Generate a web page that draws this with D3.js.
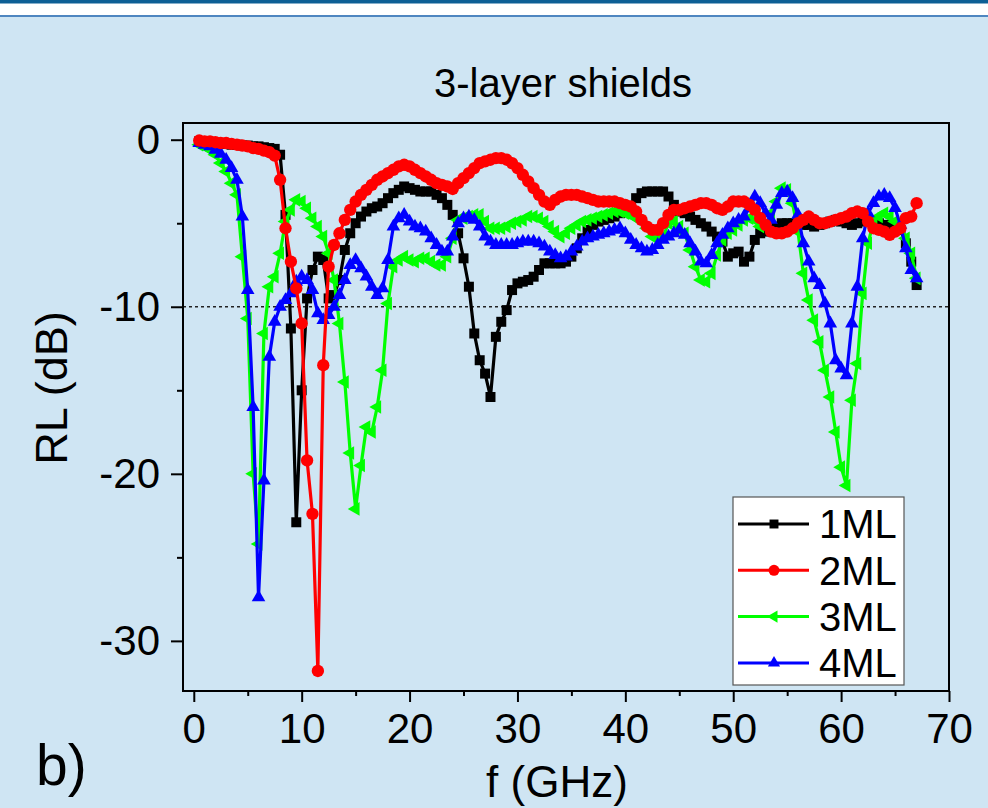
<!DOCTYPE html>
<html>
<head>
<meta charset="utf-8">
<script src="https://cdn.jsdelivr.net/npm/d3@7"></script>
<style>
  body { margin: 0; background: #cfe5f3; }
  svg { display: block; font-family: "Liberation Sans", Arial, sans-serif; }
</style>
</head>
<body>
<div id="chart"></div>
<script>
// frequency grid (GHz), shared by all four series
var freq = [
  0.5, 1, 1.5, 2, 2.5, 3, 3.5, 4, 4.5, 5,
  5.5, 6, 6.5, 7, 7.5, 8, 8.5, 9, 9.5, 10,
  10.5, 11, 11.5, 12, 12.5, 13, 13.5, 14, 14.5, 15,
  15.5, 16, 16.5, 17, 17.5, 18, 18.5, 19, 19.5, 20,
  20.5, 21, 21.5, 22, 22.5, 23, 23.5, 24, 24.5, 25,
  25.5, 26, 26.5, 27, 27.5, 28, 28.5, 29, 29.5, 30,
  30.5, 31, 31.5, 32, 32.5, 33, 33.5, 34, 34.5, 35,
  35.5, 36, 36.5, 37, 37.5, 38, 38.5, 39, 39.5, 40,
  40.5, 41, 41.5, 42, 42.5, 43, 43.5, 44, 44.5, 45,
  45.5, 46, 46.5, 47, 47.5, 48, 48.5, 49, 49.5, 50,
  50.5, 51, 51.5, 52, 52.5, 53, 53.5, 54, 54.5, 55,
  55.5, 56, 56.5, 57, 57.5, 58, 58.5, 59, 59.5, 60,
  60.5, 61, 61.5, 62, 62.5, 63, 63.5, 64, 64.5, 65,
  65.5, 66, 66.5, 67
];

// reflection loss (dB)
var rl1ML = [
  -0.1, -0.15, -0.2, -0.2, -0.25, -0.25, -0.3, -0.3, -0.35, -0.35,
  -0.4, -0.4, -0.45, -0.5, -0.55, -0.9, -4.5, -11.3, -22.9, -15.0,
  -9.5, -7.8, -7.0, -7.2, -9.5, -9.3, -8.4, -6.6, -5.6, -5.0,
  -4.6, -4.3, -4.1, -4.0, -3.8, -3.5, -3.2, -3.0, -2.8, -2.9,
  -3.0, -3.1, -3.1, -3.1, -3.3, -3.5, -3.9, -4.5, -5.6, -7.1,
  -8.8, -11.6, -13.2, -14.0, -15.4, -11.8, -10.9, -10.2, -9.0, -8.6,
  -8.5, -8.4, -8.2, -7.8, -7.4, -7.4, -7.4, -7.4, -7.3, -7.0,
  -6.5, -5.9, -5.4, -5.1, -4.9, -4.8, -4.7, -4.6, -4.4, -4.3,
  -4.0, -3.5, -3.2, -3.1, -3.1, -3.1, -3.1, -3.4, -3.9, -4.3,
  -4.4, -4.6, -4.8, -5.0, -5.2, -5.5, -5.8, -6.1, -7.0, -6.8,
  -6.7, -7.3, -7.0, -6.0, -5.6, -5.5, -5.4, -5.2, -5.0, -5.0,
  -5.0, -5.0, -5.1, -5.1, -5.2, -5.1, -5.0, -4.9, -4.8, -4.9,
  -5.0, -5.1, -5.0, -4.9, -4.8, -4.9, -5.0, -5.1, -5.1, -5.2,
  -5.4, -6.2, -7.3, -8.7
];
var rl2ML = [
  -0.05, -0.1, -0.1, -0.15, -0.2, -0.2, -0.25, -0.3, -0.35, -0.4,
  -0.5, -0.55, -0.65, -0.75, -0.95, -2.4, -5.3, -7.3, -8.9, -11.0,
  -19.2, -22.4, -31.8, -13.5, -7.6, -6.3, -5.6, -4.8, -4.2, -3.7,
  -3.3, -3.0, -2.7, -2.4, -2.2, -2.0, -1.8, -1.6, -1.5, -1.6,
  -1.8, -2.0, -2.2, -2.4, -2.6, -2.7, -2.8, -2.95, -2.6, -2.3,
  -2.0, -1.7, -1.4, -1.3, -1.2, -1.1, -1.1, -1.2, -1.4, -1.7,
  -2.1, -2.5, -2.9, -3.3, -3.7, -3.9, -3.6, -3.4, -3.3, -3.3,
  -3.3, -3.4, -3.5, -3.6, -3.7, -3.7, -3.7, -3.7, -3.8, -3.9,
  -4.0, -4.3, -4.8, -5.2, -5.4, -5.4, -5.0, -4.5, -4.2, -4.2,
  -4.1, -4.0, -3.9, -3.8, -3.8, -3.9, -4.1, -4.2, -4.0, -3.7,
  -3.7, -3.7, -3.9, -4.2, -4.7, -5.1, -5.5, -5.6, -5.6, -5.5,
  -5.3, -5.0, -4.8, -4.6, -4.8, -5.0, -5.0, -4.9, -4.8, -4.7,
  -4.6, -4.4, -4.3, -4.4, -4.9, -5.3, -5.4, -5.5, -5.7, -5.5,
  -5.3, -4.7, -4.6, -3.8
];
var rl3ML = [
  -0.3, -0.4, -0.6, -0.9, -1.4, -1.9, -2.6, -3.3, -7.0, -10.7,
  -20.0, -24.2, -11.6, -8.8, -8.2, -6.8, -4.9, -4.2, -3.6, -3.7,
  -4.1, -4.7, -5.2, -5.8, -6.8, -8.4, -11.0, -14.5, -18.75, -22.1,
  -19.5, -17.2, -17.5, -16.0, -13.8, -9.8, -7.6, -7.2, -7.0, -7.2,
  -7.3, -7.1, -7.1, -7.3, -7.5, -7.5, -7.0, -5.9, -4.8, -4.7,
  -4.6, -4.5, -4.5, -4.9, -5.3, -5.3, -5.3, -5.2, -5.0, -4.9,
  -4.8, -4.6, -4.6, -4.7, -4.9, -5.2, -5.5, -5.8, -5.6, -5.3,
  -5.1, -4.9, -4.8, -4.7, -4.6, -4.5, -4.4, -4.3, -4.3, -4.4,
  -4.5, -4.7, -4.9, -5.3, -5.8, -5.8, -5.8, -5.0, -4.9, -5.2,
  -5.6, -6.6, -7.6, -8.4, -8.5, -8.0, -6.9, -6.0, -5.6, -5.4,
  -5.1, -4.8, -4.7, -4.8, -5.2, -5.2, -4.4, -3.7, -2.9, -3.0,
  -3.8, -5.5, -8.0, -9.6, -10.8, -12.1, -13.8, -15.4, -17.5, -19.6,
  -20.7, -15.6, -13.4, -9.2, -6.2, -4.9, -4.6, -4.4, -4.6, -4.9,
  -5.2, -5.9, -6.8, -8.3
];
var rl4ML = [
  -0.2, -0.3, -0.4, -0.6, -0.85, -1.2, -1.7, -2.4, -4.6, -9.0,
  -16.0, -27.4, -20.4, -13.0, -10.9, -10.0, -9.6, -9.2, -8.5, -8.2,
  -8.4, -9.0, -10.4, -10.8, -10.5, -10.0, -9.3, -8.4, -7.5, -7.2,
  -7.7, -8.2, -8.8, -9.3, -8.9, -7.2, -5.2, -4.7, -4.5, -4.9,
  -5.2, -5.3, -5.5, -5.9, -6.3, -6.7, -6.7, -5.8, -5.0, -4.7,
  -4.6, -4.8, -5.2, -5.8, -6.1, -6.3, -6.3, -6.3, -6.3, -6.2,
  -6.1, -6.1, -6.1, -6.2, -6.4, -6.7, -6.9, -7.1, -7.0, -6.7,
  -6.4, -6.1, -5.9, -5.8, -5.7, -5.6, -5.5, -5.4, -5.3, -5.6,
  -6.0, -6.3, -6.5, -6.7, -6.6, -6.3, -6.0, -5.8, -5.6, -5.4,
  -5.7, -6.2, -6.7, -7.3, -7.4, -6.9, -6.2, -5.7, -5.3, -5.0,
  -4.8, -4.6, -4.1, -3.4, -3.8, -4.4, -4.8, -3.9, -3.2, -3.1,
  -3.5, -4.5, -6.2, -7.3, -8.3, -8.7, -9.8, -11.0, -13.2, -13.7,
  -14.1, -11.0, -8.8, -5.9, -4.4, -3.8, -3.4, -3.3, -3.5, -4.1,
  -5.1, -6.5, -7.8, -8.3
];

var seriesNames = ["1ML", "2ML", "3ML", "4ML"];
var xTicks = [0, 10, 20, 30, 40, 50, 60, 70];
var xMinorTicks = [5, 15, 25, 35, 45, 55, 65];
var yTicks = [0, -10, -20, -30];
var yMinorTicks = [-5, -15, -25];
var refLevel = -10;

var width = 988, height = 808;
var frame = {left: 183, right: 949, top: 123, bottom: 691};

var series = [
  {name: seriesNames[0], values: rl1ML, color: "#000000", symbol: d3.symbolSquare, size: 100, rotate: 0},
  {name: seriesNames[1], values: rl2ML, color: "#ff0000", symbol: d3.symbolCircle, size: 120, rotate: 0},
  {name: seriesNames[2], values: rl3ML, color: "#00ff00", symbol: d3.symbolTriangle, size: 80, rotate: -90},
  {name: seriesNames[3], values: rl4ML, color: "#0000ff", symbol: d3.symbolTriangle, size: 80, rotate: 0}
];
var drawOrder = [0, 2, 3, 1];

var svg = d3.select("#chart").append("svg")
    .attr("width", width)
    .attr("height", height);

// page background + header bands
svg.append("rect").attr("width", width).attr("height", height).attr("fill", "#cfe5f3");
svg.append("rect").attr("width", width).attr("height", 15).attr("fill", "#ffffff");
svg.append("rect").attr("width", width).attr("height", 3.5).attr("fill", "#0d5f95");
svg.append("rect").attr("y", 15).attr("width", width).attr("height", 2).attr("fill", "#4f86c0");

var x = d3.scaleLinear().domain([-1, 70]).range([frame.left, frame.right]);
var y = d3.scaleLinear().domain([1, -33]).range([frame.top, frame.bottom]);

// plain hyphen for negatives, like the original
var fmt = function (d) { return String(d); };

// axes (major with labels, minor without)
svg.append("g")
    .attr("transform", "translate(0," + frame.bottom + ")")
    .call(d3.axisBottom(x).tickValues(xTicks).tickSize(11).tickPadding(11).tickFormat(fmt));
svg.append("g")
    .attr("transform", "translate(0," + frame.bottom + ")")
    .call(d3.axisBottom(x).tickValues(xMinorTicks).tickSize(5).tickFormat(""));
svg.append("g")
    .attr("transform", "translate(" + frame.left + ",0)")
    .call(d3.axisLeft(y).tickValues(yTicks).tickSize(12).tickPadding(11).tickFormat(fmt));
svg.append("g")
    .attr("transform", "translate(" + frame.left + ",0)")
    .call(d3.axisLeft(y).tickValues(yMinorTicks).tickSize(6).tickFormat(""));

svg.selectAll(".domain").remove();
svg.selectAll(".tick line").attr("stroke", "#000").attr("stroke-width", 2);
svg.selectAll(".tick text")
    .attr("fill", "#000")
    .style("font-size", "42px")
    .style("font-family", "'Liberation Sans', Arial, sans-serif");

// -10 dB reference
svg.append("line")
    .attr("x1", frame.left).attr("x2", frame.right)
    .attr("y1", y(refLevel)).attr("y2", y(refLevel))
    .attr("stroke", "#222")
    .attr("stroke-width", 1.6)
    .attr("stroke-dasharray", "3,3");

// curves
var line = d3.line()
    .x(function (d, i) { return x(freq[i]); })
    .y(function (d) { return y(d); });

drawOrder.forEach(function (k) {
  var s = series[k];
  var g = svg.append("g").attr("class", "series");
  g.append("path")
      .datum(s.values)
      .attr("fill", "none")
      .attr("stroke", s.color)
      .attr("stroke-width", 3.2)
      .attr("stroke-linejoin", "round")
      .attr("d", line);
  g.selectAll("path.mark")
      .data(s.values)
    .enter().append("path")
      .attr("class", "mark")
      .attr("fill", s.color)
      .attr("transform", function (d, i) {
        return "translate(" + x(freq[i]) + "," + y(d) + ") rotate(" + s.rotate + ")";
      })
      .attr("d", d3.symbol().type(s.symbol).size(s.size));
});

// frame
svg.append("rect")
    .attr("x", frame.left).attr("y", frame.top)
    .attr("width", frame.right - frame.left)
    .attr("height", frame.bottom - frame.top)
    .attr("fill", "none")
    .attr("stroke", "#000")
    .attr("stroke-width", 2);

// legend
var legend = svg.append("g").attr("transform", "translate(733,497)");
legend.append("rect")
    .attr("width", 171).attr("height", 188)
    .attr("fill", "#ffffff")
    .attr("stroke", "#555")
    .attr("stroke-width", 1.2);
var item = legend.selectAll(".item")
    .data(series)
  .enter().append("g")
    .attr("class", "item")
    .attr("transform", function (d, i) { return "translate(0," + (27 + i * 46.3) + ")"; });
item.append("line")
    .attr("x1", 5).attr("x2", 76)
    .attr("stroke", function (d) { return d.color; })
    .attr("stroke-width", 3);
item.append("path")
    .attr("fill", function (d) { return d.color; })
    .attr("transform", function (d) { return "translate(41,0) rotate(" + d.rotate + ")"; })
    .attr("d", function (d) { return d3.symbol().type(d.symbol).size(d.size * 0.8)(); });
item.append("text")
    .attr("x", 86)
    .attr("dy", "0.36em")
    .style("font-size", "40px")
    .text(function (d) { return d.name; });

// titles
svg.append("text")
    .attr("x", 563).attr("y", 97)
    .attr("text-anchor", "middle")
    .style("font-size", "40px")
    .text("3-layer shields");
svg.append("text")
    .attr("transform", "translate(67," + 388 + ") rotate(-90)")
    .attr("text-anchor", "middle")
    .style("font-size", "45px")
    .text("RL (dB)");
svg.append("text")
    .attr("x", 557).attr("y", 797)
    .attr("text-anchor", "middle")
    .style("font-size", "44px")
    .text("f (GHz)");
svg.append("text")
    .attr("x", 36).attr("y", 785)
    .style("font-size", "57px")
    .text("b)");
</script>
</body>
</html>
